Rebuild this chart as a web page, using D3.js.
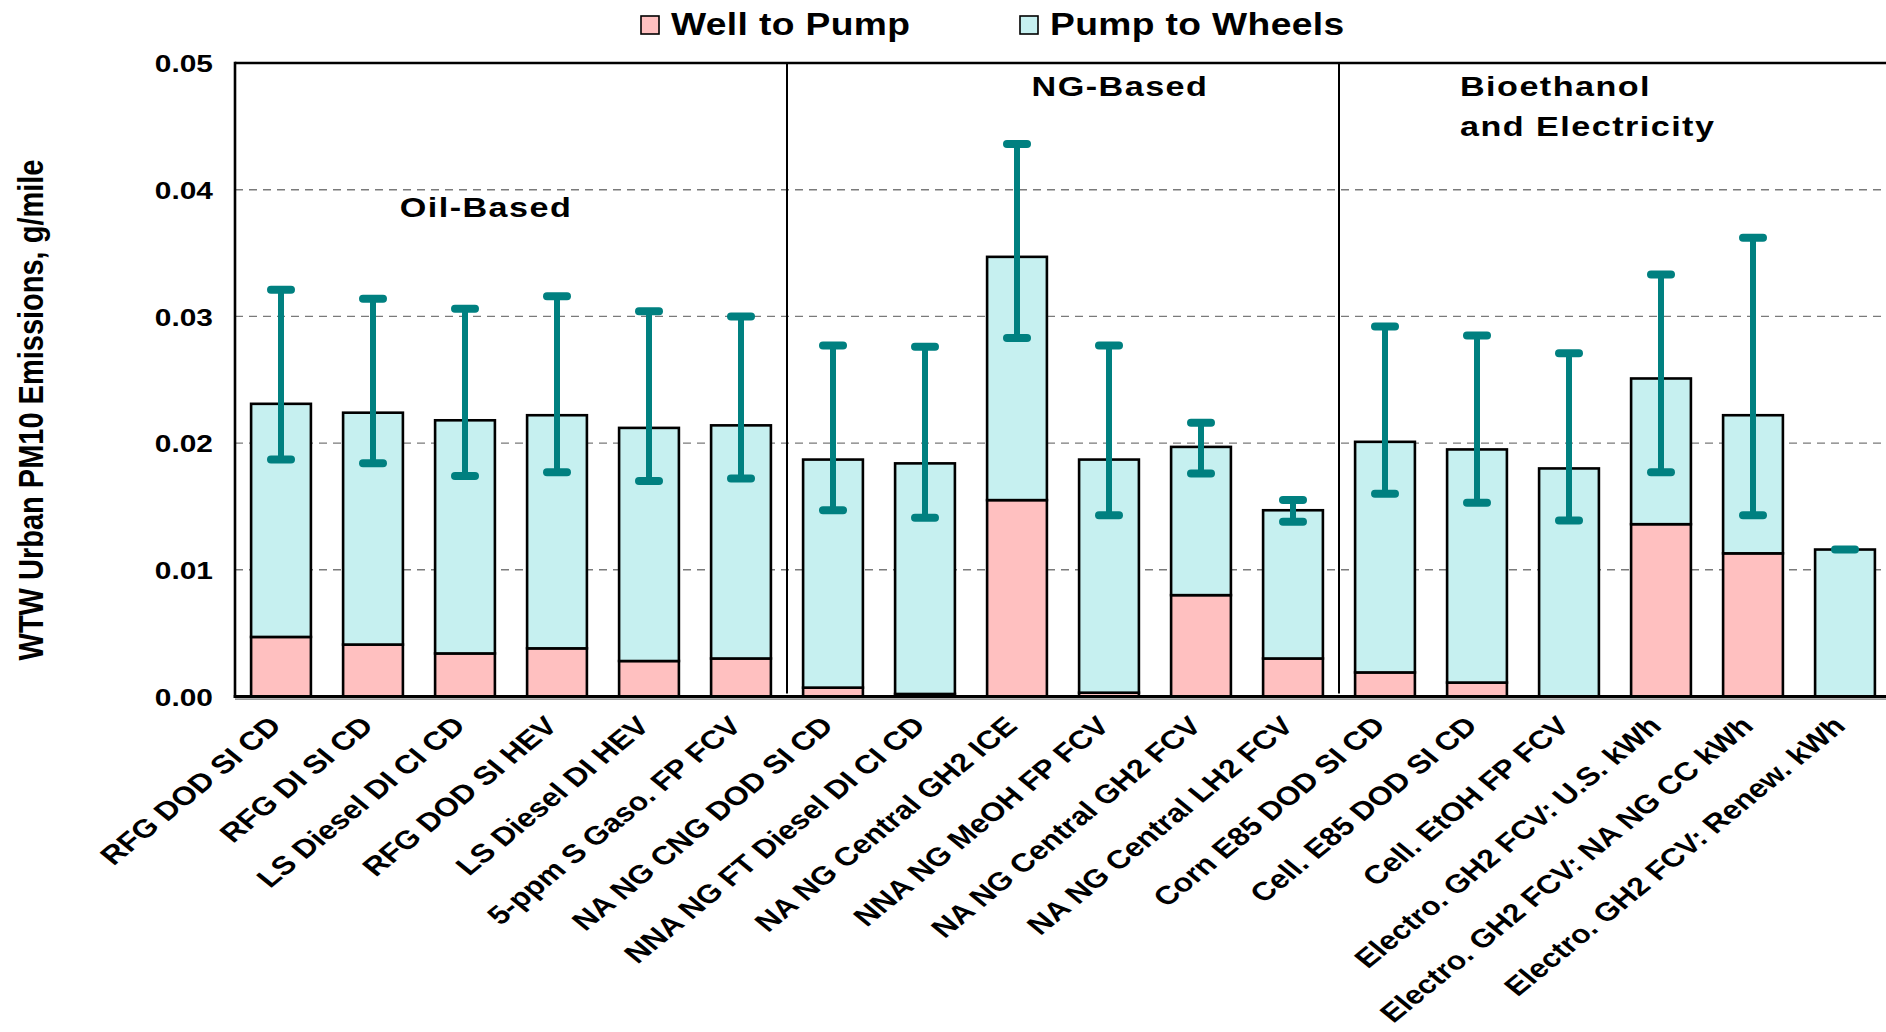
<!DOCTYPE html>
<html>
<head>
<meta charset="utf-8">
<script src="https://cdn.jsdelivr.net/npm/d3@7/dist/d3.min.js"></script>
<style>
  html, body { margin: 0; padding: 0; background: #ffffff; }
  svg { display: block; }
  text { font-family: "Liberation Sans", Arial, sans-serif; font-weight: bold; fill: #000; }
</style>
</head>
<body>
<svg id="chart" width="1886" height="1032"></svg>
<script>
// Pathway names, left to right
const categories = [
  "RFG DOD SI CD", "RFG DI SI CD", "LS Diesel DI CI CD", "RFG DOD SI HEV",
  "LS Diesel DI HEV", "5-ppm S Gaso. FP FCV", "NA NG CNG DOD SI CD",
  "NNA NG FT Diesel DI CI CD", "NA NG Central GH2 ICE", "NNA NG MeOH FP FCV",
  "NA NG Central GH2 FCV", "NA NG Central LH2 FCV", "Corn E85 DOD SI CD",
  "Cell. E85 DOD SI CD", "Cell. EtOH FP FCV", "Electro. GH2 FCV: U.S. kWh",
  "Electro. GH2 FCV: NA NG CC kWh", "Electro. GH2 FCV: Renew. kWh"
];

// Stacked series, g/mile
const wellToPump = [
  0.0047, 0.0041, 0.0034, 0.0038, 0.0028, 0.0030,
  0.0007, 0.0002, 0.0155, 0.0003, 0.0080, 0.0030,
  0.0019, 0.0011, 0.0000, 0.0136, 0.0113, 0.0000
];
const pumpToWheels = [
  0.0184, 0.0183, 0.0184, 0.0184, 0.0184, 0.0184,
  0.0180, 0.0182, 0.0192, 0.0184, 0.0117, 0.0117,
  0.0182, 0.0184, 0.0180, 0.0115, 0.0109, 0.0116
];

// Uncertainty range of the well-to-wheels total
const errLow = [
  0.0187, 0.0184, 0.0174, 0.0177, 0.0170, 0.0172,
  0.0147, 0.0141, 0.0283, 0.0143, 0.0176, 0.0138,
  0.0160, 0.0153, 0.0139, 0.0177, 0.0143, 0.0116
];
const errHigh = [
  0.0321, 0.0314, 0.0306, 0.0316, 0.0304, 0.0300,
  0.0277, 0.0276, 0.0436, 0.0277, 0.0216, 0.0155,
  0.0292, 0.0285, 0.0271, 0.0333, 0.0362, 0.0116
];

const yTicks = [0.00, 0.01, 0.02, 0.03, 0.04, 0.05];
const seriesNames = ["Well to Pump", "Pump to Wheels"];
const groupNames = [["Oil-Based"], ["NG-Based"], ["Bioethanol", "and Electricity"]];
const groupSizes = [6, 6, 6];
const yTitle = "WTW Urban PM10 Emissions, g/mile";

// Layout
const plotLeft = 235, plotRight = 1886, bandEnd = 1891;
const plotTop = 63, plotBottom = 696.5;
const SX = 1.22; // horizontal stretch applied to lettering
const colors = { wtp: "#ffc0c0", ptw: "#c6f0f0", err: "#008080" };

const svg = d3.select("#chart");

const x = d3.scaleBand().domain(categories).range([plotLeft, bandEnd])
  .paddingInner(0.35).paddingOuter(0.175);
const y = d3.scaleLinear().domain([0, 0.05]).range([plotBottom, plotTop]);

// dashed gridlines
svg.append("g").selectAll("line")
  .data(yTicks.filter(t => t > 0 && t < 0.05))
  .join("line")
  .attr("x1", plotLeft).attr("x2", plotRight)
  .attr("y1", d => y(d)).attr("y2", d => y(d))
  .attr("stroke", "#7a7a7a").attr("stroke-width", 1.4)
  .attr("stroke-dasharray", "8,6");

// stacked bars
const rows = categories.map((c, i) => ({
  cat: c, wtp: wellToPump[i], ptw: pumpToWheels[i], lo: errLow[i], hi: errHigh[i]
}));
const stack = d3.stack().keys(["wtp", "ptw"]);
const stacked = stack(rows);
const fills = [colors.wtp, colors.ptw];

svg.append("g").selectAll("g")
  .data(stacked)
  .join("g")
  .attr("fill", (d, i) => fills[i])
  .selectAll("rect")
  .data(d => d.filter(s => s[1] - s[0] > 0))
  .join("rect")
  .attr("x", d => x(d.data.cat))
  .attr("width", x.bandwidth())
  .attr("y", d => y(d[1]))
  .attr("height", d => y(d[0]) - y(d[1]))
  .attr("stroke", "#000").attr("stroke-width", 2.6);

// group separators
let acc = 0;
const sepX = [];
groupSizes.slice(0, -1).forEach(n => {
  acc += n;
  sepX.push((x(categories[acc - 1]) + x.bandwidth() + x(categories[acc])) / 2);
});
svg.append("g").selectAll("line")
  .data(sepX).join("line")
  .attr("x1", d => d).attr("x2", d => d)
  .attr("y1", plotTop).attr("y2", plotBottom - 3)
  .attr("stroke", "#000").attr("stroke-width", 2);

// frame: top, left, bottom
svg.append("line").attr("x1", plotLeft).attr("x2", plotRight)
  .attr("y1", y(0.05)).attr("y2", y(0.05)).attr("stroke", "#000").attr("stroke-width", 2.6);
svg.append("line").attr("x1", plotLeft).attr("x2", plotLeft)
  .attr("y1", y(0.05) - 1.3).attr("y2", y(0) + 1.5).attr("stroke", "#000").attr("stroke-width", 2.6);
svg.append("line").attr("x1", plotLeft).attr("x2", plotRight)
  .attr("y1", y(0) + 2.6).attr("y2", y(0) + 2.6).attr("stroke", "#9a9a9a").attr("stroke-width", 1.6);
svg.append("line").attr("x1", plotLeft - 1.3).attr("x2", plotRight)
  .attr("y1", y(0)).attr("y2", y(0)).attr("stroke", "#000").attr("stroke-width", 3);

// error bars
const eg = svg.append("g").selectAll("g").data(rows).join("g")
  .attr("transform", d => `translate(${x(d.cat) + x.bandwidth() / 2},0)`);
eg.filter(d => d.hi > d.lo).append("line")
  .attr("y1", d => y(d.lo)).attr("y2", d => y(d.hi))
  .attr("stroke", colors.err).attr("stroke-width", 6);
eg.selectAll("line.cap")
  .data(d => d.hi > d.lo ? [d.lo, d.hi] : [d.hi])
  .join("line").attr("class", "cap")
  .attr("x1", -10).attr("x2", 10)
  .attr("y1", d => y(d)).attr("y2", d => y(d))
  .attr("stroke", colors.err).attr("stroke-width", 8).attr("stroke-linecap", "round");

// y axis labels
const yAxis = svg.append("g").attr("transform", `translate(${plotLeft},0)`)
  .call(d3.axisLeft(y).tickValues(yTicks).tickFormat(d3.format(".2f")).tickSize(0));
yAxis.select(".domain").remove();
yAxis.selectAll("text")
  .attr("x", null).attr("dy", "0.36em")
  .attr("transform", `translate(-22,0) scale(${SX},1)`)
  .attr("text-anchor", "end")
  .style("font-family", '"Liberation Sans", Arial, sans-serif')
  .style("font-weight", "bold").style("font-size", "24.5px").attr("fill", "#000");

// x axis category labels
const xAxis = svg.append("g").attr("transform", `translate(0,${plotBottom})`)
  .call(d3.axisBottom(x).tickSize(0));
xAxis.select(".domain").remove();
xAxis.selectAll("text")
  .attr("y", 0).attr("dy", 0)
  .attr("transform", `translate(2,31) scale(${SX},1) rotate(-45)`)
  .attr("text-anchor", "end")
  .style("font-family", '"Liberation Sans", Arial, sans-serif')
  .style("font-weight", "bold").style("font-size", "26px").attr("fill", "#000");

// y axis title
svg.append("text")
  .attr("transform", `translate(43,410) scale(1.2,1) rotate(-90)`)
  .attr("text-anchor", "middle")
  .style("font-size", "29px")
  .text(yTitle);

// group titles
const gt = svg.append("g").style("font-size", "28px").style("letter-spacing", "1.2px");
gt.append("text").attr("transform", `translate(486,217) scale(${SX},1)`)
  .attr("text-anchor", "middle").text(groupNames[0][0]);
gt.append("text").attr("transform", `translate(1120,96) scale(${SX},1)`)
  .attr("text-anchor", "middle").text(groupNames[1][0]);
groupNames[2].forEach((t, i) => {
  gt.append("text").attr("transform", `translate(1460,${96 + i * 40}) scale(${SX},1)`)
    .attr("text-anchor", "start").text(t);
});

// legend
const legendX = [641, 1020];
const lg = svg.append("g").selectAll("g").data(seriesNames).join("g")
  .attr("transform", (d, i) => `translate(${legendX[i]},0)`);
lg.append("rect").attr("x", 0).attr("y", 16).attr("width", 18).attr("height", 18)
  .attr("fill", (d, i) => fills[i]).attr("stroke", "#000").attr("stroke-width", 1.6);
lg.append("text").attr("transform", `translate(30,35) scale(${SX},1)`)
  .style("font-size", "30.5px").style("letter-spacing", "0.3px").text(d => d);
</script>
</body>
</html>
